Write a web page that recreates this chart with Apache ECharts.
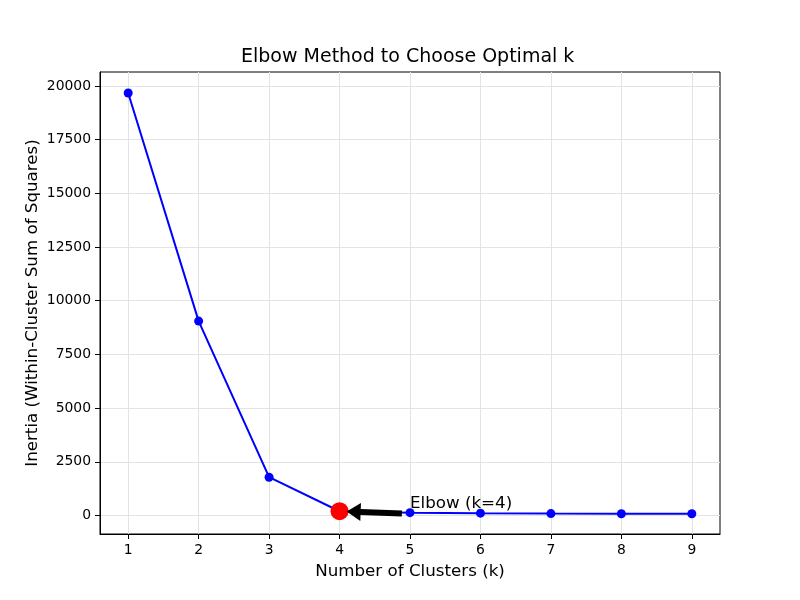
<!DOCTYPE html>
<html>
<head>
<meta charset="utf-8">
<script src="https://cdn.jsdelivr.net/npm/echarts@6/dist/echarts.min.js"></script>
<style>html,body{margin:0;padding:0;background:#fff;}#c{width:800px;height:600px;}</style>
</head>
<body>
<div id="c"></div>
<script>
const kValues = [1, 2, 3, 4, 5, 6, 7, 8, 9];
const inertia = [19674, 9052, 1784, 200, 135, 110, 90, 85, 82];
const xTicks = [1, 2, 3, 4, 5, 6, 7, 8, 9];
const yTicks = [0, 2500, 5000, 7500, 10000, 12500, 15000, 17500, 20000];
const elbowK = 4;
const annotText = 'Elbow (k=4)';
const annotTextPos = [5, 540];
const arrowTail = [4.885, 98];
const arrowHead = [4.2, 179];

const FONT = 'DejaVu Sans';
const chart = echarts.init(document.getElementById('c'), null, {renderer: 'canvas'});
const lineData = kValues.map((k, i) => [k, inertia[i]]);
const elbowIdx = kValues.indexOf(elbowK);

chart.setOption({
  animation: false,
  backgroundColor: '#ffffff',
  textStyle: {fontFamily: FONT},
  title: {
    text: 'Elbow Method to Choose Optimal k',
    left: 241, top: 48, padding: 0,
    textStyle: {fontFamily: FONT, fontSize: 19, fontWeight: 'normal', color: '#000'}
  },
  grid: {left: 100, right: 80, top: 72, bottom: 66, show: true, borderColor: '#000', borderWidth: 1, containLabel: false},
  xAxis: {
    type: 'value', min: 0.6, max: 9.4,
    name: 'Number of Clusters (k)', nameLocation: 'middle', nameGap: 29, nameMoveOverlap: false,
    nameTextStyle: {fontFamily: FONT, fontSize: 16.7, color: '#000'},
    axisLine: {show: true, onZero: false, lineStyle: {color: '#000', width: 1}},
    axisTick: {show: true, inside: false, length: 5, customValues: xTicks, lineStyle: {color: '#000'}},
    axisLabel: {customValues: xTicks, margin: 9, fontFamily: FONT, fontSize: 13.9, color: '#000', formatter: v => String(v)},
    splitLine: {show: true, lineStyle: {color: '#e3e3e3', width: 1}}
  },
  yAxis: {
    type: 'value', min: -860, max: 20650,
    name: 'Inertia (Within-Cluster Sum of Squares)', nameLocation: 'middle', nameGap: 59, nameMoveOverlap: false,
    nameTextStyle: {fontFamily: FONT, fontSize: 16.7, color: '#000'},
    axisLine: {show: true, onZero: false, lineStyle: {color: '#000', width: 1}},
    axisTick: {show: true, inside: false, length: 5, customValues: yTicks, lineStyle: {color: '#000'}},
    axisLabel: {customValues: yTicks, margin: 9, fontFamily: FONT, fontSize: 13.9, color: '#000', formatter: v => String(v)},
    splitLine: {show: true, lineStyle: {color: '#e3e3e3', width: 1}}
  },
  series: [
    {
      type: 'line', data: lineData, symbol: 'circle', symbolSize: 9,
      itemStyle: {color: '#0000ff', opacity: 1}, lineStyle: {color: '#0000ff', width: 2},
      z: 2
    },
    {
      type: 'scatter', data: [[elbowK, inertia[elbowIdx]]], symbol: 'circle', symbolSize: 18,
      itemStyle: {color: '#ff0000', opacity: 1}, z: 3,
      markLine: {
        silent: true, animation: false,
        symbol: ['none', 'triangle'], symbolSize: [18, 14],
        lineStyle: {color: '#000', width: 6, type: 'solid', cap: 'butt', opacity: 1},
        itemStyle: {color: '#000'},
        label: {show: false},
        data: [[{coord: arrowTail}, {coord: arrowHead}]]
      }
    },
    {
      type: 'scatter', data: [annotTextPos], symbolSize: 0, silent: true, z: 5,
      itemStyle: {opacity: 1},
      label: {show: true, position: 'right', distance: 0, formatter: annotText,
        fontFamily: FONT, fontSize: 16.7, color: '#000000', opacity: 1, textBorderWidth: 0}
    }
  ]
});
</script>
</body>
</html>
